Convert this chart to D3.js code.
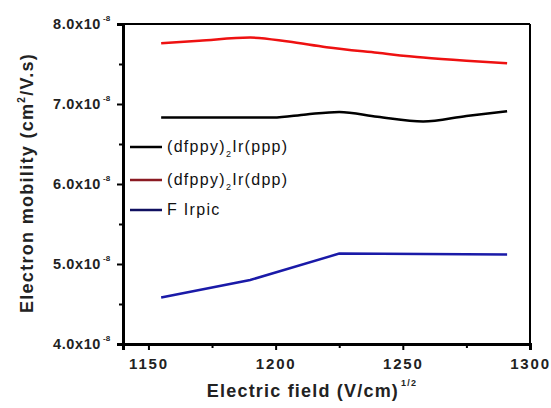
<!DOCTYPE html>
<html>
<head>
<meta charset="utf-8">
<script src="https://cdn.jsdelivr.net/npm/d3@7/dist/d3.min.js"></script>
<style>
body { margin: 0; background: #fff; }
text { font-family: Arial, "Liberation Sans", sans-serif; }
</style>
</head>
<body>
<svg id="chart" width="551" height="408"></svg>
<script>
// data
var seriesNames = ["(dfppy)2Ir(ppp)", "(dfppy)2Ir(dpp)", "FIrpic"];
var pppX = [1155, 1199, 1212, 1225, 1240, 1258, 1275, 1291];
var pppY = [6.83, 6.83, 6.87, 6.90, 6.84, 6.78, 6.85, 6.91];
var dppX = [1155, 1170, 1190, 1205, 1220, 1240, 1258, 1275, 1291];
var dppY = [7.76, 7.79, 7.83, 7.78, 7.71, 7.64, 7.58, 7.54, 7.51];
var firX = [1155, 1190, 1225, 1291];
var firY = [4.58, 4.80, 5.13, 5.12];
var xTicks = [1150, 1200, 1250, 1300];
var yTicks = [4, 5, 6, 7, 8];

var svg = d3.select("#chart");
var pLeft = 123, pRight = 530, pTop = 24, pBottom = 344;

var x = d3.scaleLinear().domain([1140, 1300]).range([pLeft, pRight]);
var y = d3.scaleLinear().domain([4, 8]).range([pBottom, pTop]);

var series = [
  { name: seriesNames[0], xs: pppX, ys: pppY, color: "#000000", legend: "#000000", curve: d3.curveMonotoneX },
  { name: seriesNames[1], xs: dppX, ys: dppY, color: "#ee1111", legend: "#8b1a22", curve: d3.curveMonotoneX },
  { name: seriesNames[2], xs: firX, ys: firY, color: "#1a1aa8", legend: "#101060", curve: d3.curveLinear }
];

series.forEach(function (s) {
  var line = d3.line()
    .x(d => x(d[0]))
    .y(d => y(d[1]))
    .curve(s.curve);
  svg.append("path")
    .attr("d", line(s.xs.map((v, i) => [v, s.ys[i]])))
    .attr("fill", "none")
    .attr("stroke", s.color)
    .attr("stroke-width", 2.5);
});

// frame (top / right thinner)
svg.append("line").attr("x1", pLeft).attr("x2", pRight).attr("y1", pTop).attr("y2", pTop)
  .attr("stroke", "#000").attr("stroke-width", 2);
svg.append("line").attr("x1", pRight).attr("x2", pRight).attr("y1", pTop).attr("y2", pBottom)
  .attr("stroke", "#000").attr("stroke-width", 2);

// axes
var xAxis = svg.append("g")
  .attr("transform", `translate(0,${pBottom})`)
  .call(d3.axisBottom(x).tickValues(xTicks).tickSize(6).tickPadding(6).tickFormat(d3.format("d")));
var xMinor = svg.append("g")
  .attr("transform", `translate(0,${pBottom})`)
  .call(d3.axisBottom(x).tickValues([1175, 1225, 1275]).tickSize(4).tickFormat(""));

var yAxis = svg.append("g")
  .attr("transform", `translate(${pLeft},0)`)
  .call(d3.axisLeft(y).tickValues(yTicks).tickSize(6).tickFormat(""));
var yMinor = svg.append("g")
  .attr("transform", `translate(${pLeft},0)`)
  .call(d3.axisLeft(y).tickValues([4.5, 5.5, 6.5, 7.5]).tickSize(4).tickFormat(""));

[xAxis, xMinor, yAxis, yMinor].forEach(function (g) {
  g.select(".domain").attr("stroke", "#000").attr("stroke-width", 3);
  g.selectAll(".tick line").attr("stroke", "#000").attr("stroke-width", 2);
});

xAxis.selectAll(".tick text")
  .attr("font-size", 15)
  .attr("font-weight", "bold")
  .attr("fill", "#222")
  .attr("letter-spacing", 1.8)
  .attr("dy", "0.85em");

// y tick labels with superscript exponent
var yLab = svg.append("g");
yTicks.forEach(function (t) {
  yLab.append("text")
    .attr("x", 101)
    .attr("y", y(t) + 5)
    .attr("text-anchor", "end")
    .attr("font-size", 14.5)
    .attr("font-weight", "bold")
    .attr("letter-spacing", 0.6)
    .attr("fill", "#222")
    .text(t.toFixed(1) + "x10");
  yLab.append("text")
    .attr("x", 103)
    .attr("y", y(t) - 3)
    .attr("font-size", 8)
    .attr("font-weight", "bold")
    .attr("fill", "#222")
    .text("-8");
});

// axis titles
var xt = svg.append("text")
  .attr("x", 312)
  .attr("y", 397)
  .attr("text-anchor", "middle")
  .attr("font-size", 18)
  .attr("font-weight", "bold")
  .attr("letter-spacing", 1.2)
  .attr("fill", "#222");
xt.append("tspan").text("Electric field (V/cm)");
xt.append("tspan").attr("font-size", 9).attr("dy", -11).attr("dx", 2).text("1/2");

var yt = svg.append("text")
  .attr("transform", "translate(33,183) rotate(-90)")
  .attr("text-anchor", "middle")
  .attr("font-size", 18)
  .attr("font-weight", "bold")
  .attr("letter-spacing", 1.3)
  .attr("fill", "#222");
yt.append("tspan").text("Electron mobility (cm");
yt.append("tspan").attr("font-size", 10).attr("dy", -8).text("2");
yt.append("tspan").attr("dy", 8).text("/V.s)");

// legend
var legend = svg.append("g");
var legendY = [147, 180, 210];
series.forEach(function (s, i) {
  legend.append("line")
    .attr("x1", 130).attr("x2", 162)
    .attr("y1", legendY[i]).attr("y2", legendY[i])
    .attr("stroke", s.legend)
    .attr("stroke-width", 2.5);
  var t = legend.append("text")
    .attr("x", 167)
    .attr("y", legendY[i] + 5)
    .attr("font-size", 16)
    .attr("letter-spacing", 1.3)
    .attr("fill", "#111");
  if (i < 2) {
    t.append("tspan").text("(dfppy)");
    t.append("tspan").attr("font-size", 9).attr("dy", 5).text("2");
    t.append("tspan").attr("dy", -5).text(i === 0 ? "Ir(ppp)" : "Ir(dpp)");
  } else {
    t.append("tspan").text("F Irpic");
  }
});
</script>
</body>
</html>
